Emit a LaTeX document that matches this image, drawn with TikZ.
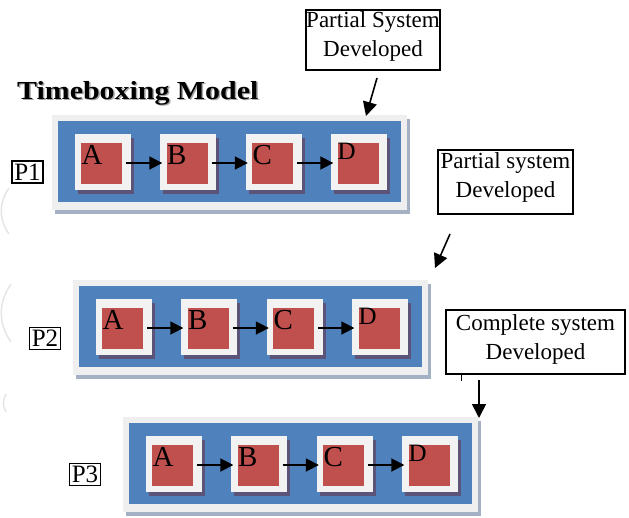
\documentclass[tikz,border=0pt]{standalone}
\usepackage{fontspec}
\setmainfont{Liberation Serif}
\usetikzlibrary{arrows.meta,calc}
\definecolor{boxblue}{HTML}{4F81BD}
\definecolor{boxred}{HTML}{C0504D}
\definecolor{framegray}{HTML}{EFEFEF}
\definecolor{frameshadow}{HTML}{A4B0C4}
\definecolor{tileshadow}{HTML}{5C5478}
\definecolor{tilewhite}{HTML}{F2F2F2}
\begin{document}
\begin{tikzpicture}[x=1pt,y=-1pt,
  tile/.style={fill=tilewhite,minimum size=56pt,inner sep=0pt},
  core/.style={fill=boxred,minimum size=41pt,inner sep=0pt},
  letter/.style={font=\fontsize{29}{29}\selectfont,inner sep=0pt,anchor=north west},
  smallletter/.style={font=\fontsize{25}{25}\selectfont,inner sep=0pt,anchor=north west},
  flow/.style={-{Triangle[length=13pt,width=13pt]},line width=1.8pt},
  pointer/.style={-{Triangle[length=14pt,width=14pt]},line width=1.6pt},
  note/.style={draw,line width=1.5pt,fill=white,inner sep=0pt},
  notetext/.style={align=center,font=\fontsize{23}{29}\selectfont,inner sep=0pt},
  tag/.style={draw,line width=1.3pt,font=\fontsize{25}{25}\selectfont,inner sep=0pt,
    minimum width=31pt,minimum height=22pt}]
\useasboundingbox (0,0) rectangle (629,517);

% faint marks along the left edge
\draw[black!10,line width=1.5pt] (9,188) to[bend right=35] (9,234);
\draw[black!10,line width=1.5pt] (11,284) to[bend right=35] (11,342);
\draw[black!10,line width=1.5pt] (6,394) to[bend right=30] (6,412);

% title with a soft drop shadow
\node[anchor=base west,inner sep=0pt,text=black!35] (titleshadow) at (18.5,100.5)
  {\scalebox{1.15}[1]{\bfseries\fontsize{26}{26}\selectfont Timeboxing Model}};
\node[anchor=base west,inner sep=0pt] (title) at (17,99)
  {\scalebox{1.15}[1]{\bfseries\fontsize{26}{26}\selectfont Timeboxing Model}};

% the three timeboxes
\foreach \p/\ox/\oy in {1/52/115, 2/73/280, 3/123/417} {
  \fill[frameshadow] (\ox+3,\oy+4) rectangle (\ox+358,\oy+99);
  \fill[framegray] (\ox,\oy) rectangle (\ox+355,\oy+95);
  \fill[boxblue] (\ox+6,\oy+6) rectangle (\ox+349,\oy+87);
  \foreach \t [count=\i from 0] in {A,B,C,D} {
    \fill[tileshadow] (\ox+22.5+85.5*\i+3,\oy+19+4) rectangle +(56,56);
    \node[tile] (w\t\p) at (\ox+22.5+85.5*\i+28,\oy+19+28) {};
    \node[core] (r\t\p) at ($(w\t\p)+(-1,1)$) {};
  }
  \foreach \t in {A,B,C}
    \node[letter] (l\t\p) at ($(r\t\p.north west)+(0.5,3)$) {\t};
  \node[smallletter] (lD\p) at ($(rD\p.north west)+(0,0.5)$) {D};
  \draw[flow] ([xshift=4pt]rA\p.east) -- ([xshift=-4pt]rB\p.west);
  \draw[flow] ([xshift=4pt]rB\p.east) -- ([xshift=-4pt]rC\p.west);
  \draw[flow] ([xshift=4pt]rC\p.east) -- ([xshift=-4pt]rD\p.west);
}

% phase tags
\node[tag] (p1) at (27.5,172) {P1};
\node[tag] (p2) at (45,338.5) {P2};
\node[tag] (p3) at (85,474.5) {P3};

% callouts
\node[note,minimum width=134pt,minimum height=60pt] (n1) at (373,40) {};
\node[notetext] (t1) at ($(n1.center)+(0,-4)$) {Partial System\\Developed};
\node[note,minimum width=135pt,minimum height=64pt] (n2) at (505.5,182) {};
\node[notetext] (t2) at ($(n2.center)+(0,-5)$) {Partial system\\Developed};
\node[note,minimum width=179pt,minimum height=64pt] (n3) at (535.5,342) {};
\node[notetext] (t3) at ($(n3.center)+(0,-3)$) {Complete system\\Developed};

\coordinate (a1s) at (377,78);
\coordinate (a1e) at (366,116);
\draw[pointer] (a1s) -- (a1e);
\coordinate (a2s) at (450,234);
\coordinate (a2e) at (435,268);
\draw[pointer] (a2s) -- (a2e);
\coordinate (a3s) at (479,380);
\coordinate (a3e) at (479,418);
\draw[pointer] (a3s) -- (a3e);
\draw[line width=1pt] ([xshift=16pt]n3.south west) -- +(0,6);
\end{tikzpicture}
\end{document}
